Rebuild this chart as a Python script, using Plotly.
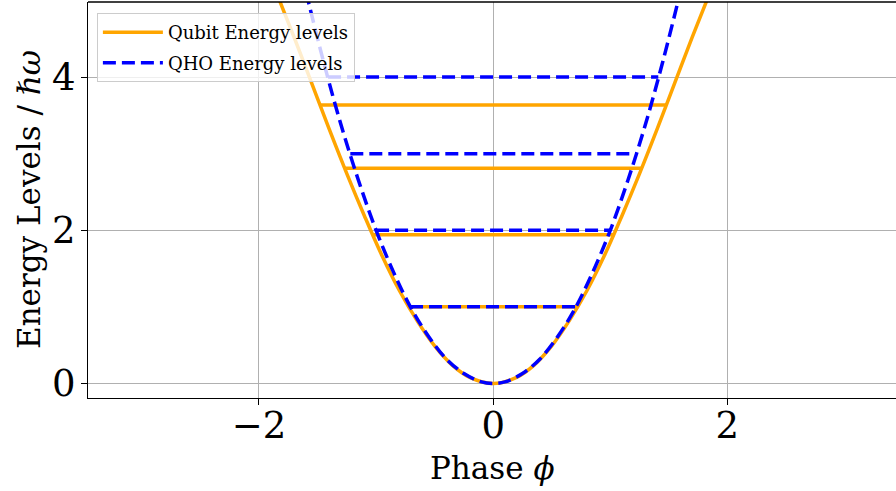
import plotly.graph_objects as go

# Qubit (cosine) potential
qubit_phi = [-1.84, -1.7, -1.55, -1.4, -1.25, -1.1, -0.95, -0.8, -0.65, -0.5, -0.35, -0.2, 0.0,
             0.2, 0.35, 0.5, 0.65, 0.8, 0.95, 1.1, 1.25, 1.4, 1.55, 1.7, 1.84]
qubit_E = [5.06, 4.52, 3.92, 3.32, 2.74, 2.19, 1.67, 1.21, 0.82, 0.49, 0.24, 0.08, 0.0,
           0.08, 0.24, 0.49, 0.82, 1.21, 1.67, 2.19, 2.74, 3.32, 3.92, 4.52, 5.06]

# Harmonic oscillator potential
qho_phi = [-1.6, -1.45, -1.3, -1.15, -1.0, -0.85, -0.7, -0.55, -0.4, -0.25, -0.1, 0.0,
           0.1, 0.25, 0.4, 0.55, 0.7, 0.85, 1.0, 1.15, 1.3, 1.45, 1.6]
qho_E = [5.12, 4.21, 3.38, 2.65, 2.0, 1.45, 0.98, 0.61, 0.32, 0.13, 0.02, 0.0,
         0.02, 0.13, 0.32, 0.61, 0.98, 1.45, 2.0, 2.65, 3.38, 4.21, 5.12]

# Energy levels and their half-widths (where they meet the potential)
qubit_levels = [1.0, 1.94, 2.81, 3.635]
qubit_half = [0.72, 1.03, 1.27, 1.48]
qho_levels = [1.0, 2.0, 3.0, 4.0]
qho_half = [0.71, 1.0, 1.22, 1.41]

x_ticks = [-2, 0, 2]
x_ticktext = ["\u22122", "0", "2"]
y_ticks = [0, 2, 4]
y_ticktext = ["0", "2", "4"]

ORANGE = "#FFA500"
BLUE = "#0000FF"
FONT = "DejaVu Serif"
DASH = "13px,6px"

fig = go.Figure()

fig.add_trace(go.Scatter(x=qubit_phi, y=qubit_E, mode="lines", line=dict(color=ORANGE, width=3.5, shape="spline"),
                         name="Qubit Energy levels", legendgroup="q"))
for E, h in zip(qubit_levels, qubit_half):
    fig.add_trace(go.Scatter(x=[-h, h], y=[E, E], mode="lines", line=dict(color=ORANGE, width=3.5),
                             showlegend=False, legendgroup="q"))

fig.add_trace(go.Scatter(x=qho_phi, y=qho_E, mode="lines",
                         line=dict(color=BLUE, width=3.5, dash=DASH, shape="spline"),
                         name="QHO Energy levels", legendgroup="h"))
for E, h in zip(qho_levels, qho_half):
    fig.add_trace(go.Scatter(x=[-h, h], y=[E, E], mode="lines", line=dict(color=BLUE, width=3.5, dash=DASH),
                             showlegend=False, legendgroup="h"))

fig.add_shape(type="line", xref="paper", yref="paper", x0=0, x1=1, y0=1, y1=1,
              line=dict(color="black", width=1.3))

fig.add_annotation(text="Phase <i>\u03d5</i>", xref="paper", yref="paper", x=0.5, y=0,
                   xanchor="center", yanchor="middle", yshift=-70, showarrow=False,
                   font=dict(size=31, family=FONT, color="black"))
fig.add_annotation(text="Energy Levels / \u210f<i>\u03c9</i>", xref="paper", yref="paper", x=0, y=0.50,
                   xanchor="center", yanchor="middle", xshift=-59, textangle=-90, showarrow=False,
                   font=dict(size=31, family=FONT, color="black"))

fig.update_layout(
    width=896, height=491,
    margin=dict(l=88, r=0, t=2, b=93),
    plot_bgcolor="white", paper_bgcolor="white",
    font=dict(family=FONT, color="black"),
    showlegend=True,
    legend=dict(x=0.011, y=0.972, xanchor="left", yanchor="top",
                bgcolor="rgba(255,255,255,0.8)", bordercolor="#cccccc", borderwidth=1,
                font=dict(family=FONT, size=18), tracegroupgap=4, itemwidth=60),
    xaxis=dict(range=[-3.46, 3.44], tickvals=x_ticks, ticktext=x_ticktext,
               showgrid=True, gridcolor="#b0b0b0", gridwidth=1, zeroline=False,
               showline=True, linecolor="black", linewidth=1.3,
               ticks="outside", ticklen=6, tickcolor="black", ticklabelstandoff=-12,
               tickfont=dict(size=37, family=FONT), automargin=False),
    yaxis=dict(range=[-0.19, 4.98], tickvals=y_ticks, ticktext=y_ticktext,
               showgrid=True, gridcolor="#b0b0b0", gridwidth=1, zeroline=False,
               showline=True, linecolor="black", linewidth=1.3,
               ticks="outside", ticklen=6, tickcolor="black", ticklabelstandoff=-2,
               tickfont=dict(size=37, family=FONT), automargin=False),
)

fig.write_html("out.html", post_script="document.body.style.margin='0px';",
               config={"displayModeBar": False})
